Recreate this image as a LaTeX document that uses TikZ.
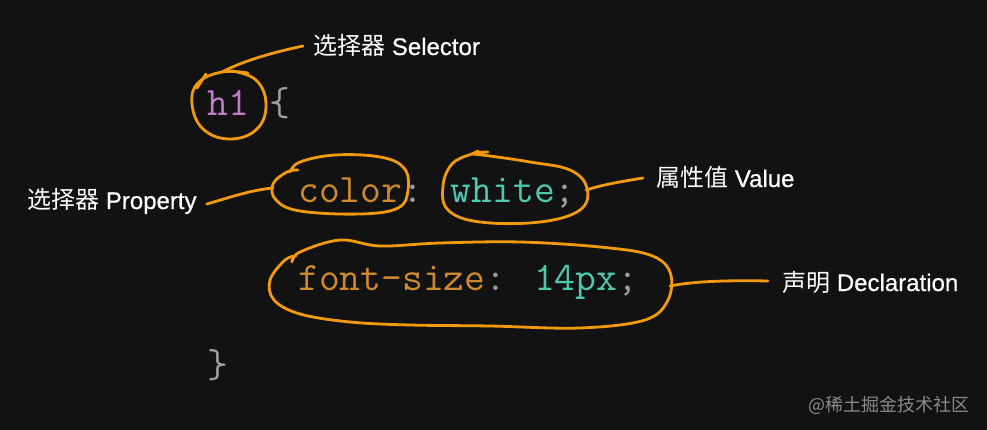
\documentclass[tikz,border=0pt]{standalone}
\usepackage{fontspec}
\setmainfont{Liberation Sans}[FakeBold=0.6]
\newfontfamily\cjk{Noto Sans CJK SC}
\newfontfamily\wmfont{Noto Sans CJK SC}
\definecolor{bg}{HTML}{121212}
\definecolor{tagc}{HTML}{C27BCB}
\definecolor{propc}{HTML}{D08A2E}
\definecolor{valc}{HTML}{4EC9B0}
\definecolor{puncc}{HTML}{9E9E9E}
\definecolor{pen}{HTML}{F29A0E}
\definecolor{wmark}{HTML}{8A8A8A}
\tikzset{
  codeline/.style={anchor=base west, inner sep=0pt, font=\ttfamily\fontsize{40.4}{40}\selectfont},
  label/.style={anchor=base west, inner sep=0pt, text=white, font=\fontsize{24}{24}\selectfont},
  penline/.style={draw=pen, line width=2.8pt, line cap=round, line join=round},
}
\begin{document}
\begin{tikzpicture}[x=1pt,y=-1pt]
\fill[bg] (0,0) rectangle (987,430);
\useasboundingbox (0,0) rectangle (987,430);

% code
\node[codeline] (l1) at (207,116) {\textcolor{tagc}{h1} \textcolor{puncc}{\{}};
\node[codeline] (l2) at (298,203) {\textcolor{propc}{color}\textcolor{puncc}{:} \textcolor{valc}{white}\textcolor{puncc}{;}};
\node[codeline] (l3) at (298,290) {\textcolor{propc}{font-size}\textcolor{puncc}{:} \textcolor{valc}{14px}\textcolor{puncc}{;}};
\node[codeline] (l4) at (207,377) {\textcolor{puncc}{\}}};

% labels
\node[label] (sel) at (313,55) {{\cjk 选择器} Selector};
\node[label] (prop) at (27,209) {{\cjk 选择器} Property};
\node[label] (val) at (656,187) {{\cjk 属性值} Value};
\node[label] (decl) at (782,291) {{\cjk 声明} Declaration};
\node[anchor=base east, inner sep=0pt, text=wmark, font=\wmfont\fontsize{18}{18}\selectfont] (wm) at (970,411) {@稀土掘金技术社区};

% selector loop
\draw[penline] plot[smooth, tension=0.7] coordinates {(232,71) (256,80) (266,104) (257,129) (230,139) (203,129) (192,104) (198,83) (222,72) (248,73)};
\draw[penline] (206,74) -- (197,88);
\coordinate (selend) at (222,72);
\draw[penline] ([xshift=-10pt,yshift=9pt]sel.base west) .. controls (275,52) and (245,60) .. (selend);

% property loop
\draw[penline] plot[smooth, tension=0.65] coordinates {(290,172) (300,162) (335,155) (380,157) (404,168) (408,190) (398,208) (360,214) (300,211) (276,200) (273,184) (287,172) (298,170)};
\coordinate (propend) at (273,188);
\draw[penline] ([xshift=10pt,yshift=5pt]prop.base east) .. controls (225,199) and (250,190) .. (propend);

% value loop
\draw[penline] plot[smooth, tension=0.65] coordinates {(472,154) (490,156) (530,162) (570,170) (587,188) (580,210) (540,222) (480,222) (448,210) (443,186) (452,164) (472,154) (488,152)};
\draw[penline] (472,154) -- (478,151);
\coordinate (valend) at (586,190);
\draw[penline] (valend) .. controls (605,184) and (625,181) .. ([xshift=-13pt,yshift=9pt]val.base west);

% declaration loop
\draw[penline] plot[smooth, tension=0.6] coordinates {(292,262) (300,252) (340,240) (380,246) (440,243) (520,242) (600,247) (650,255) (670,272) (668,300) (645,320) (580,328) (490,326) (410,325) (350,322) (300,314) (274,300) (270,280) (285,260) (296,256)};
\coordinate (declend) at (670,286);
\draw[penline] (declend) .. controls (690,282) and (720,280) .. ([xshift=-14pt,yshift=10pt]decl.base west);
\end{tikzpicture}
\end{document}
